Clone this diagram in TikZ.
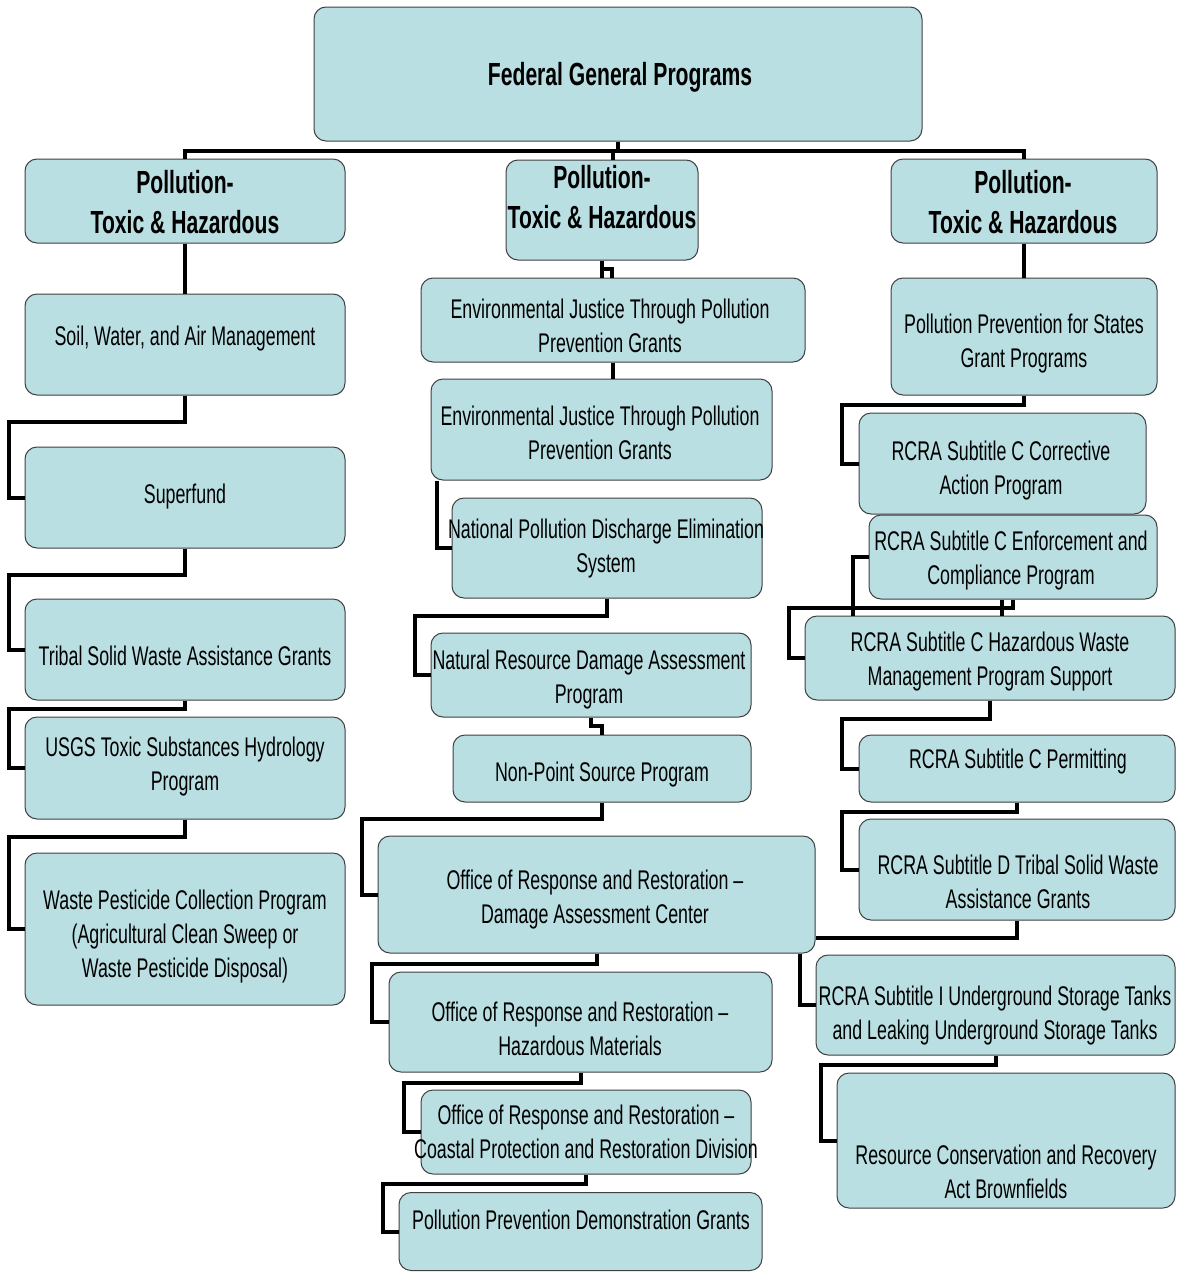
\documentclass[tikz,border=0pt]{standalone}
\usepackage{fontspec}
\setmainfont[FakeStretch=0.66]{Liberation Sans}
\usepackage{tikz}
\definecolor{boxfill}{RGB}{186,223,226}

\begin{document}
\begin{tikzpicture}[x=1pt, y=-1pt,
  box/.style={draw=black!75, line width=1pt, fill=boxfill, rounded corners=12pt, inner sep=0pt},
  txt/.style={align=center, inner sep=0pt, font=\fontsize{27}{34}\selectfont},
  head/.style={align=center, inner sep=0pt, font=\bfseries\fontsize{32}{40}\selectfont},
  link/.style={line width=4pt}]

  \useasboundingbox (0,0) rectangle (1177,1272);

  % boxes
  \node[box, minimum width=608, minimum height=134] (top) at (618,74) {};

  \node[box, minimum width=320, minimum height=84]  (l1) at (185,201) {};
  \node[box, minimum width=320, minimum height=101] (l2) at (185,344.5) {};
  \node[box, minimum width=320, minimum height=101] (l3) at (185,497.5) {};
  \node[box, minimum width=320, minimum height=101] (l4) at (185,649.5) {};
  \node[box, minimum width=320, minimum height=102] (l5) at (185,768) {};
  \node[box, minimum width=320, minimum height=152] (l6) at (185,929) {};

  \node[box, minimum width=192, minimum height=100] (m1) at (602,210) {};
  \node[box, minimum width=384, minimum height=84]  (m2) at (613,320) {};
  \node[box, minimum width=341, minimum height=101] (m3) at (601.5,429.5) {};
  \node[box, minimum width=310, minimum height=100] (m4) at (607,548) {};
  \node[box, minimum width=320, minimum height=84]  (m5) at (591,675) {};
  \node[box, minimum width=298, minimum height=67]  (m6) at (602,768.5) {};
  \node[box, minimum width=437, minimum height=117] (m7) at (596.5,894.5) {};
  \node[box, minimum width=383, minimum height=100] (m8) at (580.5,1022) {};
  \node[box, minimum width=330, minimum height=84]  (m9) at (586,1132) {};
  \node[box, minimum width=363, minimum height=78]  (m10) at (580.5,1231.5) {};

  \node[box, minimum width=266, minimum height=84]  (r1) at (1024,201) {};
  \node[box, minimum width=266, minimum height=117] (r2) at (1024,336.5) {};
  \node[box, minimum width=287, minimum height=101] (r3) at (1002.5,463.5) {};
  \node[box, minimum width=288, minimum height=84]  (r4) at (1013,557) {};
  \node[box, minimum width=370, minimum height=84]  (r5) at (990,658) {};
  \node[box, minimum width=316, minimum height=67]  (r6) at (1017,768.5) {};
  \node[box, minimum width=316, minimum height=101] (r7) at (1017,869.5) {};
  \node[box, minimum width=359, minimum height=100] (r8) at (995.5,1005) {};
  \node[box, minimum width=338, minimum height=135] (r9) at (1006,1140.5) {};

  % texts
  \node[head] (top-t) at (620,77) {Federal General Programs};

  \node[head] (l1-t) at (185,202) {Pollution-\\Toxic \& Hazardous};
  \node[txt] (l2-t) at (185,339) {Soil, Water, and Air Management};
  \node[txt] (l3-t) at (185,497) {Superfund};
  \node[txt] (l4-t) at (185,656) {Tribal Solid Waste Assistance Grants};
  \node[txt] (l5-t) at (185,767) {USGS Toxic Substances Hydrology\\Program};
  \node[txt] (l6-t) at (185,937) {Waste Pesticide Collection Program\\(Agricultural Clean Sweep or\\Waste Pesticide Disposal)};

  \node[head] (m1-t) at (602,197) {Pollution-\\Toxic \& Hazardous};
  \node[txt] (m2-t) at (610,326) {Environmental Justice Through Pollution\\Prevention Grants};
  \node[txt] (m3-t) at (600,433) {Environmental Justice Through Pollution\\Prevention Grants};
  \node[txt] (m4-t) at (606,549) {National Pollution Discharge Elimination\\System};
  \node[txt] (m5-t) at (589,680) {Natural Resource Damage Assessment\\Program};
  \node[txt] (m6-t) at (602,775) {Non-Point Source Program};
  \node[txt] (m7-t) at (595,900) {Office of Response and Restoration --\\Damage Assessment Center};
  \node[txt] (m8-t) at (580,1029) {Office of Response and Restoration --\\Hazardous Materials};
  \node[txt] (m9-t) at (586,1132) {Office of Response and Restoration --\\Coastal Protection and Restoration Division};
  \node[txt] (m10-t) at (581,1220) {Pollution Prevention Demonstration Grants};

  \node[head] (r1-t) at (1023,202) {Pollution-\\Toxic \& Hazardous};
  \node[txt] (r2-t) at (1024,344) {Pollution Prevention for States\\Grant Programs};
  \node[txt] (r3-t) at (1001,471) {RCRA Subtitle C Corrective\\Action Program};
  \node[txt] (r4-t) at (1011,561) {RCRA Subtitle C Enforcement and\\Compliance Program};
  \node[txt] (r5-t) at (990,662) {RCRA Subtitle C Hazardous Waste\\Management Program Support};
  \node[txt] (r6-t) at (1018,762) {RCRA Subtitle C Permitting};
  \node[txt] (r7-t) at (1018,882) {RCRA Subtitle D Tribal Solid Waste\\Assistance Grants};
  \node[txt] (r8-t) at (995,1016) {RCRA Subtitle I Underground Storage Tanks\\and Leaking Underground Storage Tanks};
  \node[txt] (r9-t) at (1006,1172) {Resource Conservation and Recovery\\Act Brownfields};

  % links
  \draw[link] (top.south) -- ++(0,9) -| (l1.north);
  \draw[link] (top.south) -- ++(0,9) -| (r1.north);
  \draw[link] (top.south) -- ++(0,9) -| ([xshift=11]m1.north);

  \draw[link] (l1.south) -- (l2.north);
  \draw[link] (l2.south) -- ++(0,26) -| ([xshift=-16]l3.west) -- (l3.west);
  \draw[link] (l3.south) -- ++(0,26) -| ([xshift=-16]l4.west) -- (l4.west);
  \draw[link] (l4.south) -- ++(0,8) -| ([xshift=-16]l5.west) -- (l5.west);
  \draw[link] (l5.south) -- ++(0,17) -| ([xshift=-16]l6.west) -- (l6.west);

  \draw[link] (m1.south) -- (m1.south |- m2.north);
  \draw[link] (m1.south) -- ++(0,8) -| ([xshift=-1]m2.north);
  \draw[link] (m2.south) -- (m2.south |- m3.north);
  \draw[link] ([xshift=6]m3.south west) |- (m4.west);
  \draw[link] (m4.south) -- ++(0,17) -| ([xshift=-16]m5.west) -- (m5.west);
  \draw[link] (m5.south) -- ++(0,8) -| (m6.north);
  \draw[link] (m6.south) -- ++(0,16) -| ([xshift=-16]m7.west) -- (m7.west);
  \draw[link] (m7.south) -- ++(0,10) -| ([xshift=-17]m8.west) -- (m8.west);
  \draw[link] (m8.south) -- ++(0,10) -| ([xshift=-17]m9.west) -- (m9.west);
  \draw[link] (m9.south) -- ++(0,9) -| ([xshift=-16]m10.west) -- (m10.west);
  \draw[link] ([xshift=-16]m7.south east) |- (r8.west);

  \draw[link] (r1.south) -- (r2.north);
  \draw[link] (r2.south) -- ++(0,9) -| ([xshift=-17]r3.west) -- (r3.west);
  \draw[link] (r4.west) -| ([xshift=48]r5.north west);
  \draw[link] (r4.south) -- ++(0,8) -| ([xshift=-16]r5.west) -- (r5.west);
  \draw[link] ([xshift=-11]r4.south) -- ([xshift=-11]r4.south |- r5.north);
  \draw[link] (r5.south) -- ++(0,18) -| ([xshift=-17]r6.west) -- (r6.west);
  \draw[link] (r6.south) -- ++(0,9) -| ([xshift=-17]r7.west) -- (r7.west);
  \draw[link] (r7.south) |- ([yshift=-43]m7.east);
  \draw[link] (r8.south) -- ++(0,9) -| ([xshift=-16]r9.west) -- (r9.west);

\end{tikzpicture}
\end{document}
